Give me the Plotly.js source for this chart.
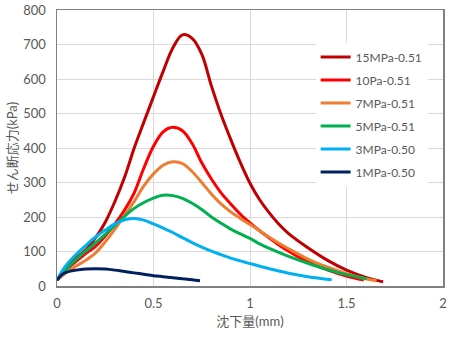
<!DOCTYPE html>
<html>
<head>
<meta charset="utf-8">
<script src="https://cdn.plot.ly/plotly-3.0.1.min.js"></script>
<style>html,body{margin:0;padding:0;background:#fff;}#chart{width:454px;height:338px;}</style>
</head>
<body>
<div id="chart"></div>
<script>
const seriesNames = ["15MPa-0.51", "10Pa-0.51", "7MPa-0.51", "5MPa-0.51", "3MPa-0.50", "1MPa-0.50"];
const seriesColors = ["#C00000", "#FF0000", "#ED7D31", "#00B050", "#00B0F0", "#002060"];

const x15 = [0, 0.05, 0.1, 0.15, 0.2, 0.25, 0.3, 0.35, 0.4, 0.45, 0.5, 0.55, 0.6, 0.65, 0.7, 0.75, 0.8, 0.85, 0.9, 0.95, 1.0, 1.05, 1.1, 1.15, 1.2, 1.3, 1.4, 1.5, 1.6, 1.69];
const y15 = [17, 52, 82, 105, 140, 185, 245, 315, 400, 475, 549, 622, 690, 728, 718, 672, 580, 497, 425, 358, 298, 250, 212, 179, 152, 111, 75, 46, 25, 12];

const x10 = [0, 0.05, 0.1, 0.15, 0.2, 0.25, 0.3, 0.35, 0.4, 0.45, 0.5, 0.55, 0.6, 0.65, 0.7, 0.75, 0.8, 0.85, 0.9, 0.95, 1.0, 1.05, 1.1, 1.15, 1.2, 1.3, 1.4, 1.5, 1.59];
const y10 = [17, 48, 72, 95, 115, 145, 180, 220, 270, 342, 405, 447, 460, 450, 413, 357, 310, 270, 238, 208, 183, 160, 139, 119, 101, 70, 47, 29, 17];

const x7 = [0, 0.05, 0.1, 0.15, 0.2, 0.25, 0.3, 0.35, 0.4, 0.45, 0.5, 0.55, 0.6, 0.65, 0.7, 0.75, 0.8, 0.85, 0.9, 0.95, 1.0, 1.05, 1.1, 1.15, 1.2, 1.3, 1.4, 1.5, 1.6, 1.656];
const y7 = [17, 40, 58, 75, 96, 128, 165, 205, 245, 290, 325, 350, 360, 355, 332, 300, 267, 238, 215, 196, 178, 160, 141, 124, 108, 78, 55, 36, 21, 15];

const x5 = [0, 0.05, 0.1, 0.15, 0.2, 0.25, 0.3, 0.35, 0.4, 0.45, 0.5, 0.55, 0.6, 0.65, 0.7, 0.75, 0.8, 0.85, 0.9, 0.95, 1.0, 1.05, 1.1, 1.2, 1.3, 1.4, 1.5, 1.605];
const y5 = [17, 50, 78, 102, 125, 150, 176, 202, 225, 242, 255, 263, 262, 254, 240, 222, 200, 182, 165, 151, 138, 122, 109, 86, 66, 48, 33, 21];

const x3 = [0, 0.025, 0.05, 0.1, 0.15, 0.2, 0.25, 0.3, 0.35, 0.4, 0.45, 0.5, 0.55, 0.6, 0.65, 0.7, 0.75, 0.8, 0.85, 0.9, 0.95, 1.0, 1.1, 1.2, 1.3, 1.423];
const y3 = [17, 42, 62, 92, 118, 142, 162, 180, 192, 196, 191, 180, 168, 155, 140, 126, 113, 101, 91, 81, 73, 65, 50, 37, 27, 18];

const x1 = [0, 0.025, 0.05, 0.1, 0.15, 0.2, 0.25, 0.3, 0.35, 0.4, 0.45, 0.5, 0.55, 0.6, 0.65, 0.7, 0.741];
const y1 = [17, 33, 40, 46, 49, 50, 49, 46, 42, 38, 34, 30, 27, 24, 21, 18, 15];

const xs = [x15, x10, x7, x5, x3, x1];
const ys = [y15, y10, y7, y5, y3, y1];

const traces = seriesNames.map((n, i) => ({
  x: xs[i], y: ys[i], name: n, type: 'scatter', mode: 'lines',
  legendgroup: 'g' + i,
  line: {color: seriesColors[i], width: 3, shape: 'spline', smoothing: 1}
}));

const fontFam = 'Lato, "Noto Sans CJK JP", sans-serif';
const layout = {
  width: 454, height: 338,
  margin: {l: 57, r: 11, t: 10, b: 52},
  paper_bgcolor: '#fff', plot_bgcolor: '#fff',
  font: {family: fontFam, size: 13, color: '#595959'},
  showlegend: true,
  legend: {x: 0.67, y: 0.882, xanchor: 'left', yanchor: 'top', bgcolor: '#fff',
           font: {size: 12, color: '#595959'}, tracegroupgap: 4},
  xaxis: {range: [0, 2], dtick: 0.5, tick0: 0, showgrid: true, gridcolor: '#d9d9d9', gridwidth: 1,
          showline: true, linecolor: '#808080', linewidth: 1.5, mirror: true, zeroline: false,
          ticks: 'outside', ticklen: 5, tickcolor: 'rgba(0,0,0,0)', tickfont: {size: 13, color: '#595959'},
          title: {text: '沈下量(mm)', font: {size: 13, color: '#595959'}, standoff: 7}},
  yaxis: {range: [0, 800], dtick: 100, showgrid: true, gridcolor: '#d9d9d9', gridwidth: 1,
          showline: true, linecolor: '#808080', linewidth: 1.5, mirror: true, zeroline: false,
          ticks: 'outside', ticklen: 7, tickcolor: 'rgba(0,0,0,0)', tickfont: {size: 13, color: '#595959'},
          title: {text: 'せん断応力(kPa)', font: {size: 13, color: '#595959'}, standoff: 2}}
};
Plotly.newPlot('chart', traces, layout, {displayModeBar: false, staticPlot: true});
</script>
</body>
</html>
